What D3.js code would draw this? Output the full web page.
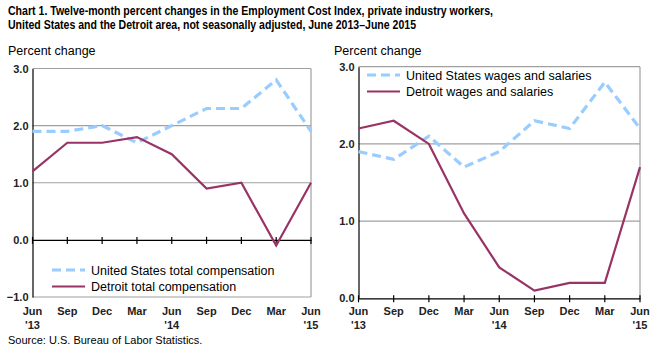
<!DOCTYPE html>
<html><head><meta charset="utf-8">
<script src="https://cdn.jsdelivr.net/npm/d3@7"></script>
<style>body{margin:0;background:#fff}svg{display:block}text{font-family:"Liberation Sans",Arial,sans-serif}</style>
</head><body><svg id="c" width="660" height="354"></svg>
<script>
const months = ["Jun","Sep","Dec","Mar","Jun","Sep","Dec","Mar","Jun"];
const years = ["'13","","","","'14","","","","'15"];
const usTotal = [1.9,1.9,2.0,1.7,2.0,2.3,2.3,2.8,1.9];
const detTotal = [1.2,1.7,1.7,1.8,1.5,0.9,1.0,-0.1,1.0];
const usWages = [1.9,1.8,2.1,1.7,1.9,2.3,2.2,2.8,2.2];
const detWages = [2.2,2.3,2.0,1.1,0.4,0.1,0.2,0.2,1.7];
const leftTicks = [-1,0,1,2,3];
const rightTicks = [0,1,2,3];
const blue = "#99ccff", maroon = "#993366";

const svg = d3.select("#c");
const narrow = "'Liberation Sans Narrow','Arial Narrow','Liberation Sans',sans-serif";
svg.append("text").attr("x",8).attr("y",15).attr("font-family",narrow).attr("font-weight","bold").attr("font-size",13.5)
  .attr("textLength",485).attr("lengthAdjust","spacingAndGlyphs")
  .text("Chart 1. Twelve-month percent changes in the Employment Cost  Index, private industry  workers,");
svg.append("text").attr("x",8).attr("y",29).attr("font-family",narrow).attr("font-weight","bold").attr("font-size",13.5)
  .attr("textLength",408).attr("lengthAdjust","spacingAndGlyphs")
  .text("United  States  and the Detroit area, not seasonally  adjusted, June  2013–June  2015");
svg.append("text").attr("x",8).attr("y",344).attr("font-size",11).attr("fill","#000")
  .text("Source: U.S. Bureau of Labor Statistics.");

function panel(o){
  const g = svg.append("g");
  const x = d3.scalePoint().domain(d3.range(months.length)).range([o.x0,o.x1]);
  const y = d3.scaleLinear().domain(o.dom).range([o.yb,o.yt]);
  g.append("text").attr("x",o.px).attr("y",55).attr("font-size",12.5).text("Percent change");
  // gridlines
  o.ticks.forEach(t=>{
    if(t!==0) g.append("line").attr("x1",o.x0).attr("x2",o.x1).attr("y1",y(t)).attr("y2",y(t)).attr("stroke","#a0a0a0").attr("stroke-width",1.2);
  });
  g.append("line").attr("x1",o.x1).attr("x2",o.x1).attr("y1",y(o.dom[1])).attr("y2",y(o.dom[0])).attr("stroke","#a0a0a0").attr("stroke-width",1.2);
  // y axis
  const ya = d3.axisLeft(y).tickValues(o.ticks).tickSize(0).tickPadding(4).tickFormat(d3.format(".1f"));
  const yg = g.append("g").attr("transform",`translate(${o.x0},0)`).call(ya);
  yg.select(".domain").attr("stroke","#000").attr("stroke-width",1.2);
  yg.selectAll("text").attr("font-size",11).attr("font-family","Liberation Sans,Arial,sans-serif").attr("font-weight","bold").attr("fill","#222").attr("dy","0.32em");
  // x axis at 0
  const xa = d3.axisBottom(x).tickSize(0).tickFormat("");
  const xg = g.append("g").attr("transform",`translate(0,${y(0)})`).call(xa);
  xg.select(".domain").attr("stroke","#000").attr("stroke-width",1.2);
  x.domain().forEach(i=>{
    g.append("line").attr("x1",x(i)).attr("x2",x(i)).attr("y1",y(0)-3).attr("y2",y(0)+4).attr("stroke","#000").attr("stroke-width",1.2);
    g.append("text").attr("x",x(i)).attr("y",o.lb).attr("text-anchor","middle").attr("font-size",11).attr("font-weight","bold").attr("fill","#222").text(months[i]);
    if(years[i]) g.append("text").attr("x",x(i)).attr("y",o.lb+14).attr("text-anchor","middle").attr("font-size",11).attr("font-weight","bold").attr("fill","#222").text(years[i]);
  });
  const line = d3.line().x((d,i)=>x(i)).y(d=>y(d));
  g.append("path").datum(o.us).attr("d",line).attr("fill","none").attr("stroke",blue).attr("stroke-width",3.2).attr("stroke-dasharray","9,5");
  g.append("path").datum(o.det).attr("d",line).attr("fill","none").attr("stroke",maroon).attr("stroke-width",2.2);
  // legend
  o.leg.forEach((l,k)=>{
    const ly = o.ly + k*16.5;
    g.append("line").attr("x1",o.lx).attr("x2",o.lx+33).attr("y1",ly).attr("y2",ly).attr("stroke",k?maroon:blue)
      .attr("stroke-width",k?2.2:3.2).attr("stroke-dasharray",k?null:"9,5");
    g.append("text").attr("x",o.lx+39).attr("y",ly+4.5).attr("font-size",12.5).text(l);
  });
}
panel({x0:32.5,x1:311,yt:68.5,yb:297,dom:[-1,3],ticks:leftTicks,us:usTotal,det:detTotal,px:8,lb:315,
  lx:52,ly:270,leg:["United States total compensation","Detroit total compensation"]});
panel({x0:358.5,x1:640,yt:66.7,yb:298.3,dom:[0,3],ticks:rightTicks,us:usWages,det:detWages,px:334,lb:315,
  lx:367,ly:75,leg:["United States wages and salaries","Detroit wages and salaries"]});
</script></body></html>
